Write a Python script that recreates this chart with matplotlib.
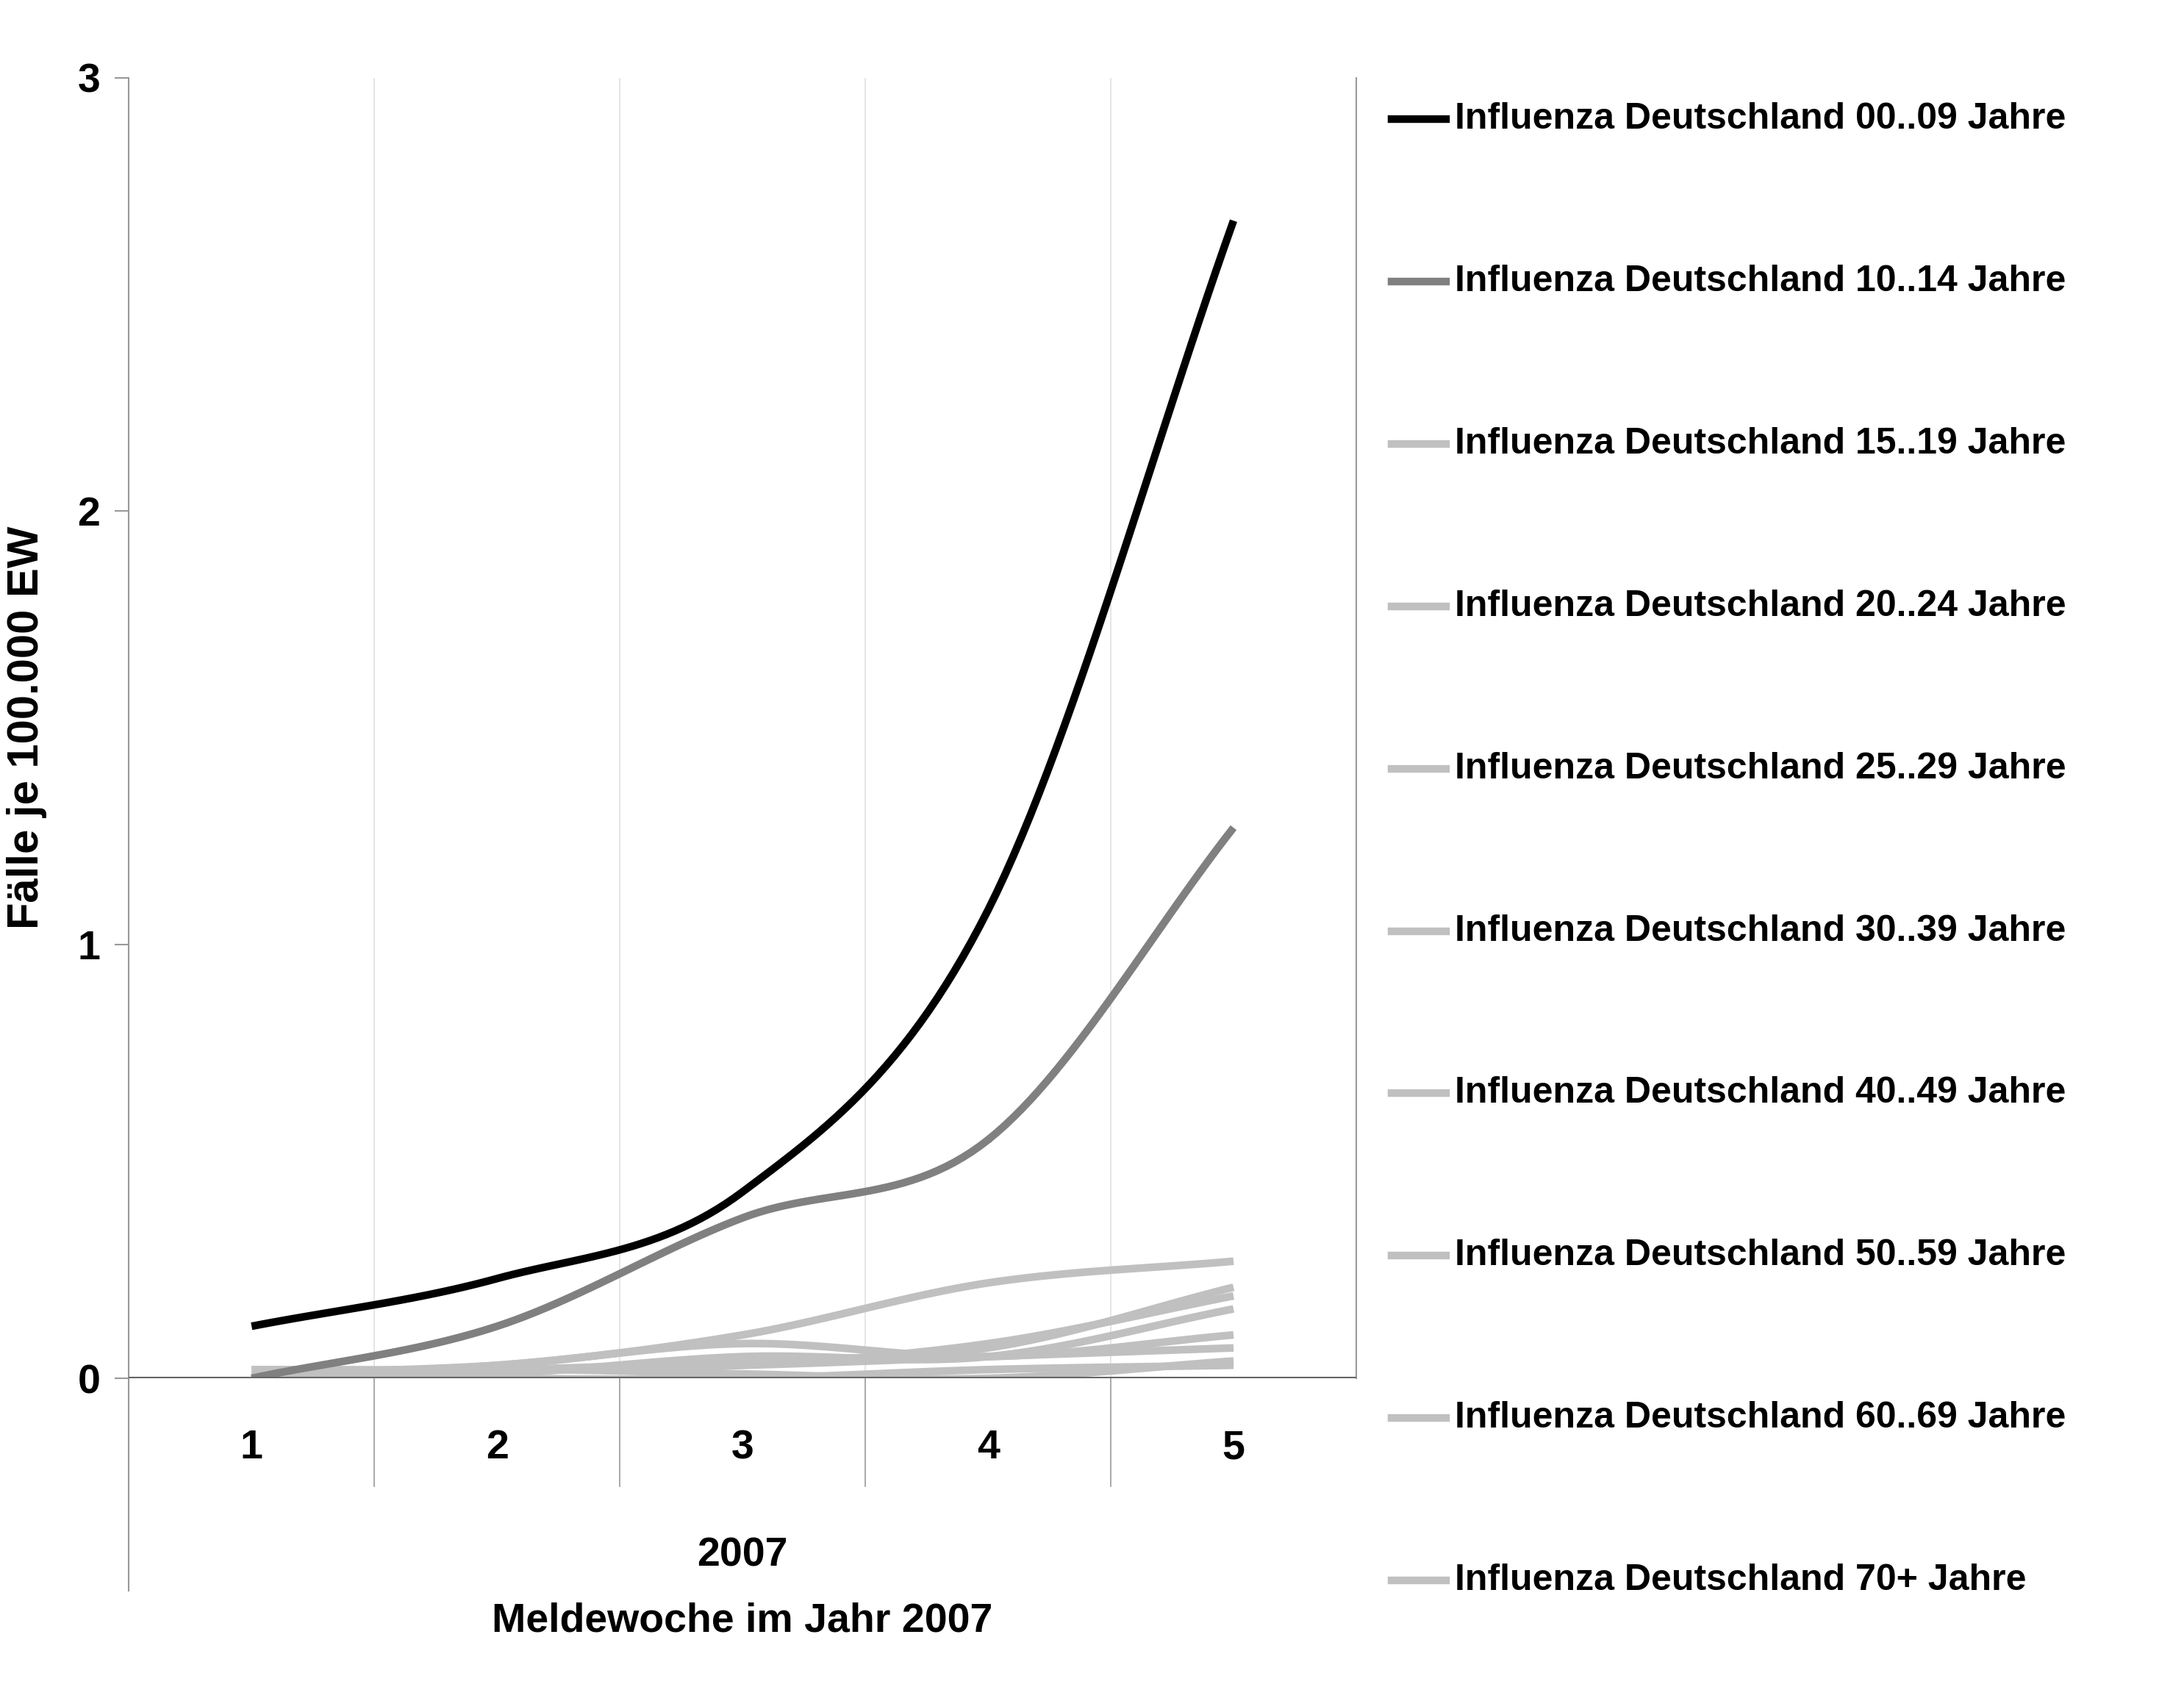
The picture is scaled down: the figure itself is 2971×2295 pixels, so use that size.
import numpy as np
import matplotlib.pyplot as plt
from matplotlib.lines import Line2D

weeks = [1, 2, 3, 4, 5]
labels = ['00..09', '10..14', '15..19', '20..24', '25..29', '30..39',
          '40..49', '50..59', '60..69', '70+']
values = [
    [0.12, 0.23, 0.43, 1.08, 2.67],
    [0.00, 0.12, 0.37, 0.55, 1.27],
    [0.01, 0.03, 0.10, 0.22, 0.27],
    [0.02, 0.02, 0.04, 0.07, 0.21],
    [0.01, 0.02, 0.03, 0.08, 0.19],
    [0.00, 0.01, 0.05, 0.05, 0.16],
    [0.01, 0.03, 0.08, 0.05, 0.10],
    [0.02, 0.02, 0.03, 0.05, 0.07],
    [0.00, 0.02, 0.01, 0.00, 0.04],
    [0.01, 0.00, 0.00, 0.02, 0.03],
]
colors = ['#000000', '#808080'] + ['#c0c0c0'] * 8

plt.rcParams['font.family'] = ['Liberation Sans', 'DejaVu Sans']
plt.rcParams['font.weight'] = 'bold'


def smooth(x, y, n=30):
    # Catmull-Rom style smoothing like the spreadsheet "smoothed line"
    x = np.asarray(x, float); y = np.asarray(y, float)
    px = np.concatenate(([2 * x[0] - x[1]], x, [2 * x[-1] - x[-2]]))
    py = np.concatenate(([2 * y[0] - y[1]], y, [2 * y[-1] - y[-2]]))
    xs, ys = [], []
    for i in range(1, len(px) - 2):
        t = np.linspace(0, 1, n)
        for p, out in ((px, xs), (py, ys)):
            p0, p1, p2, p3 = p[i - 1], p[i], p[i + 1], p[i + 2]
            out.append(0.5 * (2 * p1 + (-p0 + p2) * t + (2 * p0 - 5 * p1 + 4 * p2 - p3) * t ** 2
                              + (-p0 + 3 * p1 - 3 * p2 + p3) * t ** 3))
    return np.concatenate(xs), np.concatenate(ys)


fig = plt.figure(figsize=(29.71, 22.95), dpi=100)
ax = fig.add_axes([0.059, 0.183, 0.562, 0.771])
ax.set_xlim(0.5, 5.5)
ax.set_ylim(0, 3)

for xv in [1.5, 2.5, 3.5, 4.5]:
    ax.axvline(xv, color='#e0e0e0', lw=1.2, zorder=0)
    ax.plot([xv, xv], [0, -0.25], color='#999999', lw=1.2, clip_on=False)
ax.plot([0.5, 0.5], [0, -0.49], color='#999999', lw=1.5, clip_on=False)

for vals, col in list(zip(values, colors))[::-1]:
    sx, sy = smooth(weeks, vals)
    ax.plot(sx, sy, color=col, lw=7.5, solid_capstyle='butt')

for s in ['top', 'bottom']:
    ax.spines[s].set_visible(False)
ax.spines['left'].set_color('#999999')
ax.spines['right'].set_color('#999999')
ax.spines['left'].set_linewidth(1.5)
ax.spines['right'].set_linewidth(1.5)
ax.axhline(0, color='#666666', lw=3, zorder=5)

ax.set_yticks([0, 1, 2, 3])
ax.set_yticklabels(['0', '1', '2', '3'], fontsize=40, fontweight='bold')
ax.tick_params(axis='y', length=14, width=1.5, color='#999999', pad=14)
ax.set_xticks(weeks)
ax.set_xticklabels([str(w) for w in weeks], fontsize=40, fontweight='bold')
ax.tick_params(axis='x', length=0, pad=50)
ax.set_ylabel('Fälle je 100.000 EW', fontsize=43, fontweight='bold', labelpad=30)
ax.text(3, -0.41, '2007', ha='center', va='center', fontsize=40, fontweight='bold')
ax.text(3, -0.56, 'Meldewoche im Jahr 2007', ha='center', va='center',
        fontsize=40, fontweight='bold')

for i, (lab, col) in enumerate(zip(labels, colors)):
    y = 1 - (85 + i * 116) / 1205
    fig.add_artist(Line2D([0.637, 0.662], [y, y], color=col, lw=7.5))
    fig.text(0.666, y, 'Influenza Deutschland %s Jahre' % lab, va='center',
             ha='left', fontsize=36, fontweight='bold')

fig.savefig('out.png', dpi=100)
